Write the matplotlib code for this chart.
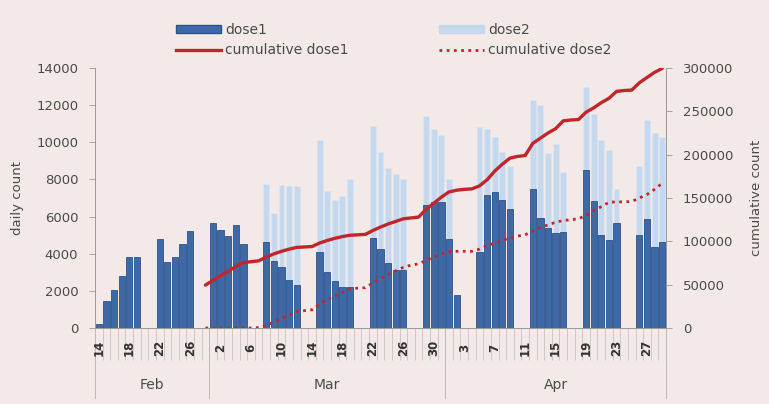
import numpy as np
import pandas as pd
import matplotlib
matplotlib.use("Agg")
import matplotlib.pyplot as plt
from matplotlib.patches import Patch
from matplotlib.lines import Line2D

plt.rcParams['font.family'] = ['DejaVu Sans']

# ---------------- data ----------------
start_date = "2021-02-14"
end_date = "2021-04-29"
months = ["Feb", "Mar", "Apr"]

dose1 = [200, 1450, 2030, 2800, 3800, 3850, 0, 0, 4770, 3530, 3850, 4500, 5230, 0, 0,
         5660, 5270, 4930, 5520, 4530, 0, 0,
         4640, 3620, 3260, 2580, 2310, 0, 0,
         4070, 3030, 2530, 2190, 2200, 0, 0,
         4820, 4250, 3480, 3120, 3120, 0, 0,
         6600, 6800, 6800, 4800, 1800, 0, 0,
         4100, 7150, 7330, 6900, 6400, 0, 0,
         7500, 5900, 5360, 5090, 5180, 0, 0,
         8500, 6850, 5000, 4730, 5630, 0, 0,
         5000, 5850, 4370, 4640]

dose2 = [0] * 15 + [0] * 7 + \
        [7750, 6200, 7700, 7650, 7650, 0, 0,
         10100, 7400, 6900, 7100, 8000, 0, 0,
         10900, 9500, 8600, 8300, 8000, 0, 0,
         11400, 10700, 10400, 8000, 1700, 0, 0,
         10800, 10700, 10300, 9500, 8700, 0, 0,
         12300, 12000, 9400, 9900, 8400, 0, 0,
         13000, 11500, 10100, 9600, 7500, 0, 0,
         8700, 11200, 10500, 10300]

cum_start = "2021-02-28"
cum_dose1 = [49500,
             55000, 60500, 65500, 71000, 75500, 76500, 77500,
             82000, 85500, 88500, 91000, 93000, 93500, 94000,
             98000, 101000, 103500, 105500, 107000, 107500, 108000,
             112500, 116500, 120000, 123000, 126000, 127000, 128000,
             137000, 144000, 151000, 157000, 159000, 160000, 160500,
             164000, 171000, 181000, 189000, 196000, 198000, 199000,
             213000, 219000, 225000, 230000, 239000, 240000, 240500,
             249000, 254000, 260000, 265000, 273000, 274000, 274500,
             283000, 289000, 295000, 299500]
cum_dose2 = [0,
             0, 0, 0, 0, 0, 0, 500,
             3000, 7000, 11000, 15000, 19000, 20000, 21000,
             28000, 33000, 37000, 41000, 45000, 46000, 46500,
             52000, 57000, 62000, 66000, 70000, 72500, 74000,
             78000, 82000, 85500, 88000, 88500, 88500, 88500,
             91000, 95000, 98000, 101000, 104000, 106000, 107500,
             112000, 116000, 119000, 122000, 124000, 125000, 126000,
             130000, 135000, 140000, 145000, 145500, 145500, 146000,
             150000, 154000, 160000, 167000]

# ---------------- figure ----------------
bg = "#F3EAE7"
txt = "#4A4A4A"
W, H = 769, 404
fig = plt.figure(figsize=(W / 100, H / 100), dpi=100, facecolor=bg)
ax_l, ax_r, ax_t, ax_b = 95, 666, 68, 328
ax = fig.add_axes([ax_l / W, 1 - ax_b / H, (ax_r - ax_l) / W, (ax_b - ax_t) / H])
ax.set_facecolor(bg)
ax_px_h = ax_b - ax_t

dates = pd.date_range(start_date, end_date, freq="D")
x = np.arange(len(dates))

ax.bar(x, dose2, width=0.78, color="#C5D8EE", edgecolor="#D9E6F4", linewidth=0.5,
       label="dose2", zorder=2)
ax.bar(x, dose1, width=0.82, color="#3F69A6", edgecolor="#2E5288", linewidth=0.6,
       label="dose1", zorder=3)

ax.set_xlim(-0.5, len(dates) - 0.5)
ax.set_ylim(0, 14000)
ax.set_yticks(np.arange(0, 14001, 2000))
ax.tick_params(axis="y", labelsize=9.5, colors="#999999", labelcolor=txt,
               length=4, width=0.6, pad=8)
ax.set_ylabel("daily count", fontsize=9.5, color=txt, labelpad=9)

# category tick marks between days
ax.set_xticks(np.arange(-0.5, len(dates), 1))
ax.set_xticklabels([])
ax.tick_params(axis="x", direction="out", length=32 / 1.389, width=0.5, colors="#BBBBBB")

ax.spines["top"].set_visible(False)
for side in ["left", "right", "bottom"]:
    ax.spines[side].set_color("#999999")
    ax.spines[side].set_linewidth(0.7)

trans = ax.get_xaxis_transform()
for i, d in enumerate(dates):
    if i % 4 == 0:
        ax.text(i, -20 / ax_px_h, str(d.day), rotation=90, ha="center", va="center",
                fontsize=8.5, color="#333333", fontweight="semibold", transform=trans)

# month separators and labels
bounds = []
for m in range(2, 5):
    sel = x[dates.month == m]
    bounds.append((sel[0] - 0.5, sel[-1] + 0.5))
for (b0, b1), name in zip(bounds, months):
    ax.text((b0 + b1) / 2, -57 / ax_px_h, name, ha="center", va="center",
            fontsize=10, color=txt, transform=trans)
edges = sorted(set([b for pair in bounds for b in pair]))
for e in edges:
    ax.plot([e, e], [0, -70 / ax_px_h], color="#BBBBBB", lw=0.7,
            transform=trans, clip_on=False)

# cumulative lines
ax2 = ax.twinx()
cx = x[dates >= pd.Timestamp(cum_start)]
ax2.plot(cx, cum_dose1, color="#C0262C", lw=2.4, solid_capstyle="round",
         label="cumulative dose1", zorder=5)
ax2.plot(cx, cum_dose2, color="#C0262C", lw=2.0, linestyle=(0, (1, 1.6)),
         label="cumulative dose2", zorder=5)
ax2.set_ylim(0, 300000)
ax2.set_yticks(np.arange(0, 300001, 50000))
ax2.tick_params(axis="y", labelsize=9.5, colors="#999999", labelcolor=txt,
                length=4, width=0.6, pad=8)
ax2.set_ylabel("cumulative count", fontsize=9.5, color=txt, labelpad=12)
for side in ["top", "left", "bottom"]:
    ax2.spines[side].set_visible(False)
ax2.spines["right"].set_color("#999999")
ax2.spines["right"].set_linewidth(0.7)

# legends
h_d1 = Patch(facecolor="#3F69A6", edgecolor="#2E5288")
h_d2 = Patch(facecolor="#C5D8EE", edgecolor="#C5D8EE")
h_c1 = Line2D([], [], color="#C0262C", lw=2.4)
h_c2 = Line2D([], [], color="#C0262C", lw=2.0, linestyle=(0, (1, 1.6)))
common = dict(loc="upper left", frameon=False, fontsize=10, handlelength=3.3,
              handleheight=0.5, handletextpad=0.25, labelspacing=0.5, labelcolor=txt)
leg1 = fig.legend([h_d1, h_c1], ["dose1", "cumulative dose1"],
                  bbox_to_anchor=(163 / W, 1 - 10 / H), **common)
leg2 = fig.legend([h_d2, h_c2], ["dose2", "cumulative dose2"],
                  bbox_to_anchor=(426 / W, 1 - 10 / H), **common)

fig.savefig("out.png", dpi=100, facecolor=bg)
